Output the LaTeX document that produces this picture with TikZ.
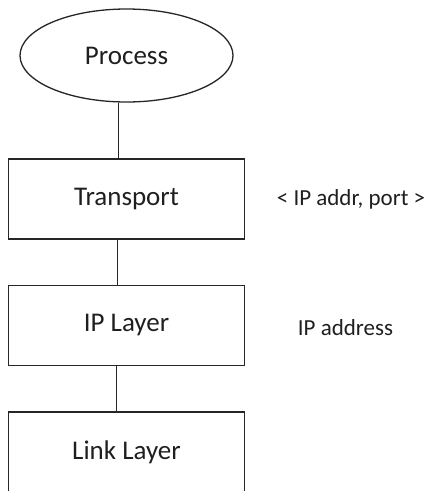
\documentclass[tikz,border=0pt]{standalone}
\usepackage{fontspec}
\setmainfont{Carlito}
\usetikzlibrary{shapes.geometric}
\begin{document}
\begin{tikzpicture}[x=1pt,y=-1pt,
  line width=1.3pt,
  layerbox/.style={draw=black!85, rectangle, minimum width=236pt, minimum height=80pt, inner sep=0pt,
    font=\fontsize{27}{32}\selectfont, text=black!88},
  procnode/.style={draw=black!85, ellipse, minimum width=213pt, minimum height=93pt, inner sep=0pt,
    font=\fontsize{27}{32}\selectfont, text=black!88},
  sidelabel/.style={font=\fontsize{23}{28}\selectfont, text=black!88, inner sep=0pt, anchor=base},
  link/.style={draw=black!85}
]
\useasboundingbox (0,0) rectangle (430,491);
\node[procnode] (proc) at (126.5,55.5) {Process};
\node[layerbox] (trans) at (126.5,199) {Transport};
\node[layerbox] (ip) at (126.5,325.5) {IP Layer};
\node[layerbox] (linkl) at (126.5,452) {Link Layer};
\node[sidelabel] (addrport) at (351,205) {< IP addr, port >};
\node[sidelabel] (ipaddr) at (345.5,335) {IP address};
\draw[link] ([xshift=-8pt]proc.south) -- ([xshift=-8pt]trans.north);
\draw[link] ([xshift=-9pt]trans.south) -- ([xshift=-9pt]ip.north);
\draw[link] ([xshift=-10pt]ip.south) -- ([xshift=-10pt]linkl.north);
\end{tikzpicture}
\end{document}
